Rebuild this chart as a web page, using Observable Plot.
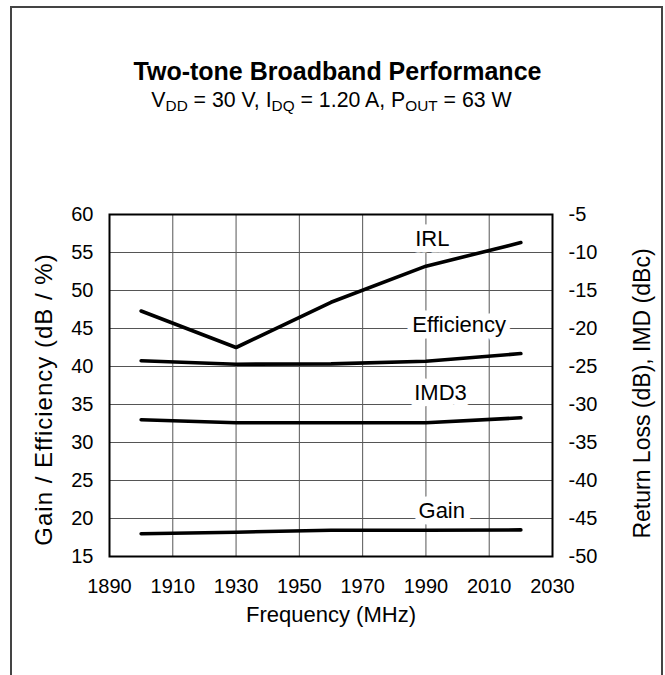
<!DOCTYPE html>
<html>
<head>
<meta charset="utf-8">
<script src="https://cdn.jsdelivr.net/npm/d3@7"></script>
<script src="https://cdn.jsdelivr.net/npm/@observablehq/plot@0.6"></script>
<style>
  html, body { margin: 0; padding: 0; background: #fff; }
  body { width: 665px; height: 675px; position: relative; overflow: hidden; font-family: "Liberation Sans", Arial, sans-serif; }
  #border { position: absolute; left: 10px; top: 6px; width: 649px; height: 720px; border: 2px solid #444; }
  #title { position: absolute; left: 5px; top: 59px; width: 665px; text-align: center; font-weight: bold; font-size: 25px; line-height: 25px; color: #000; }
  #subtitle { position: absolute; left: -1px; top: 90px; width: 665px; text-align: center; font-size: 21.3px; line-height: 21px; color: #000; }
  #subtitle sub { font-size: 0.72em; vertical-align: -0.28em; line-height: 0; }
  #chart { position: absolute; left: 0; top: 0; }
  .ytitle-left text { letter-spacing: 1px; }
</style>
</head>
<body>
<div id="border"></div>
<div id="title">Two-tone Broadband Performance</div>
<div id="subtitle">V<sub>DD</sub> = 30 V, I<sub>DQ</sub> = 1.20 A, P<sub>OUT</sub> = 63 W</div>
<div id="chart"></div>
<script>
// ---- data ----
const freq = [1900, 1930, 1960, 1990, 2020];
const gain = [18.0, 18.2, 18.45, 18.45, 18.5];          // dB (left axis)
const efficiency = [40.75, 40.3, 40.35, 40.7, 41.7];    // % (left axis)
const irl = [-17.7, -22.5, -16.55, -11.8, -8.7];        // dB (right axis)
const imd3 = [-32.0, -32.4, -32.4, -32.4, -31.75];      // dBc (right axis)

const xTicks = [1890, 1910, 1930, 1950, 1970, 1990, 2010, 2030];
const leftTicks = [15, 20, 25, 30, 35, 40, 45, 50, 55, 60];
const rightTicks = [-50, -45, -40, -35, -30, -25, -20, -15, -10, -5];
const rightOffset = 65; // right axis value + 65 = left axis value

const seriesLabels = [
  {name: "IRL", x: 1992, y: 56.8},
  {name: "Efficiency", x: 2000.5, y: 45.5},
  {name: "IMD3", x: 1994.6, y: 36.5},
  {name: "Gain", x: 1995, y: 21.05}
];

const xTitle = "Frequency (MHz)";
const yLeftTitle = "Gain / Efficiency (dB / %)";
const yRightTitle = "Return Loss (dB), IMD (dBc)";

// ---- build tables ----
const leftSeries = [gain, efficiency];
const rightSeries = [irl, imd3];
const lineData = [];
leftSeries.forEach((s, k) => s.forEach((v, i) => lineData.push({series: "L" + k, x: freq[i], y: v})));
rightSeries.forEach((s, k) => s.forEach((v, i) => lineData.push({series: "R" + k, x: freq[i], y: v + rightOffset})));

const innerX = xTicks.slice(1, -1);
const innerY = leftTicks.slice(1, -1);

const plot = Plot.plot({
  width: 665,
  height: 675,
  marginLeft: 109,
  marginRight: 113,
  marginTop: 214,
  marginBottom: 119,
  style: {fontFamily: "'Liberation Sans', Arial, sans-serif", fontSize: "20px", background: "transparent", color: "#000"},
  x: {domain: [1890, 2030]},
  y: {domain: [15, 60]},
  marks: [
    Plot.gridX(innerX, {stroke: "#555", strokeOpacity: 1, strokeWidth: 1}),
    Plot.gridY(innerY, {stroke: "#555", strokeOpacity: 1, strokeWidth: 1}),
    Plot.text(seriesLabels, {x: "x", y: "y", text: "name", fontSize: 22, fill: "#000",
      stroke: "white", strokeWidth: 13, strokeLinejoin: "round", paintOrder: "stroke"}),
    Plot.line(lineData, {x: "x", y: "y", z: "series", stroke: "#000", strokeWidth: 3.6, strokeLinecap: "round", strokeLinejoin: "round"}),
    Plot.frame({stroke: "#000", strokeWidth: 2}),
    Plot.axisX(xTicks, {anchor: "bottom", tickSize: 0, tickPadding: 22, label: null, tickFormat: d => String(d)}),
    Plot.axisY(leftTicks, {anchor: "left", tickSize: 0, tickPadding: 16, label: null, tickFormat: d => String(d)}),
    Plot.axisY(rightTicks.map(v => v + rightOffset), {anchor: "right", tickSize: 0, tickPadding: 16, label: null,
      tickFormat: d => String(d - rightOffset)}),
    Plot.text([xTitle], {frameAnchor: "bottom", textAnchor: "middle", lineAnchor: "middle", dy: 58, fontSize: 22, fill: "#000"}),
    Plot.text([yLeftTitle], {frameAnchor: "left", textAnchor: "middle", lineAnchor: "middle", rotate: -90, dx: -65, dy: 14, fontSize: 24, fill: "#000", className: "ytitle-left"}),
    Plot.text([yRightTitle], {frameAnchor: "right", textAnchor: "middle", lineAnchor: "middle", rotate: -90, dx: 90, dy: 8, fontSize: 23, fill: "#000"})
  ]
});
document.getElementById("chart").appendChild(plot);
</script>
</body>
</html>
